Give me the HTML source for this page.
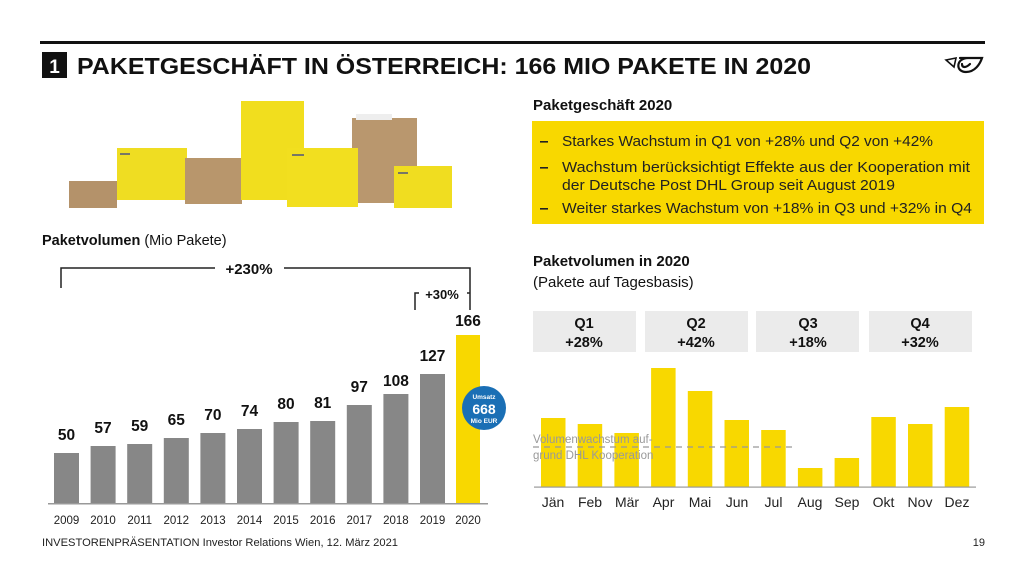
<!DOCTYPE html>
<html><head><meta charset="utf-8"><style>
html,body{margin:0;padding:0;background:#fff;}
svg{display:block;font-family:"Liberation Sans",sans-serif;}
</style></head><body>
<svg width="1024" height="576" viewBox="0 0 1024 576" xmlns="http://www.w3.org/2000/svg">
<rect width="1024" height="576" fill="#fff"/>
<!-- header -->
<rect x="40" y="41" width="945" height="3" fill="#111"/>
<rect x="42" y="52" width="25" height="26" fill="#111"/>
<text x="54.5" y="73" font-size="19" font-weight="bold" fill="#fff" text-anchor="middle">1</text>
<text x="77" y="74" font-size="23" font-weight="bold" fill="#111" textLength="734" lengthAdjust="spacingAndGlyphs">PAKETGESCHÄFT IN ÖSTERREICH: 166 MIO PAKETE IN 2020</text>
<!-- logo -->
<g fill="none" stroke="#111" stroke-width="2.2" stroke-linecap="round">
<path d="M946 60 L956 58 L954 67 Z" stroke-width="1.6"/>
<path d="M968 58 C956 58 955 72 966 72 C975 72 980 64 982 58 L960 58"/>
<path d="M962 64 C962 68 966 68 970 64"/>
</g>
<!-- boxes image -->
<g>
<rect x="69" y="181" width="48" height="27" fill="#b4926a"/>
<rect x="117" y="148" width="70" height="52" fill="#efdd22"/>
<rect x="185" y="158" width="57" height="46" fill="#b8966c"/>
<rect x="241" y="101" width="63" height="99" fill="#f1de1e"/>
<rect x="352" y="118" width="65" height="85" fill="#b9976e"/>
<rect x="356" y="114" width="36" height="6" fill="#eee"/>
<rect x="287" y="148" width="71" height="59" fill="#f2df1f"/>
<rect x="394" y="166" width="58" height="42" fill="#f0dd20"/>
<rect x="120" y="153" width="10" height="2" fill="#776"/>
<rect x="292" y="154" width="12" height="2" fill="#776"/>
<rect x="398" y="172" width="10" height="2" fill="#776"/>
</g>
<text x="42" y="245" font-size="14.5" fill="#111"><tspan font-weight="bold">Paketvolumen</tspan> (Mio Pakete)</text>
<!-- +230% bracket -->
<g stroke="#222" stroke-width="1.5" fill="none">
<path d="M61 288 V268 H215"/>
<path d="M284 268 H470 V310"/>
<path d="M415 310 V293 H419"/>
<path d="M467 293 H470"/>
</g>
<text x="249" y="274" font-size="15" font-weight="bold" fill="#111" text-anchor="middle">+230%</text>
<text x="442" y="299" font-size="13" font-weight="bold" fill="#111" text-anchor="middle">+30%</text>
<!-- left bars -->
<g fill="#878787">
<rect x="54" y="453" width="25" height="51"/>
<rect x="90.6" y="446" width="25" height="58"/>
<rect x="127.2" y="444" width="25" height="60"/>
<rect x="163.8" y="438" width="25" height="66"/>
<rect x="200.4" y="433" width="25" height="71"/>
<rect x="237" y="429" width="25" height="75"/>
<rect x="273.6" y="422" width="25" height="82"/>
<rect x="310.2" y="421" width="25" height="83"/>
<rect x="346.8" y="405" width="25" height="99"/>
<rect x="383.4" y="394" width="25" height="110"/>
<rect x="420" y="374" width="25" height="130"/>
</g>
<rect x="456" y="335" width="24" height="169" fill="#f8d800"/>
<rect x="48" y="503" width="440" height="1.5" fill="#999"/>
<g font-size="15.5" font-weight="bold" fill="#111" text-anchor="middle">
<text x="66.5" y="440">50</text><text x="103" y="433">57</text><text x="139.7" y="431">59</text>
<text x="176.3" y="425">65</text><text x="212.9" y="420">70</text><text x="249.5" y="416">74</text>
<text x="286" y="409">80</text><text x="322.7" y="408">81</text><text x="359.3" y="392">97</text>
<text x="395.9" y="386">108</text><text x="432.5" y="361">127</text><text x="468" y="326">166</text>
</g>
<g font-size="11.5" fill="#222" text-anchor="middle">
<text x="66.5" y="524">2009</text><text x="103" y="524">2010</text><text x="139.7" y="524">2011</text>
<text x="176.3" y="524">2012</text><text x="212.9" y="524">2013</text><text x="249.5" y="524">2014</text>
<text x="286" y="524">2015</text><text x="322.7" y="524">2016</text><text x="359.3" y="524">2017</text>
<text x="395.9" y="524">2018</text><text x="432.5" y="524">2019</text><text x="468" y="524">2020</text>
</g>
<circle cx="484" cy="408" r="22" fill="#1a6fb5"/>
<text x="484" y="399" font-size="6.5" font-weight="bold" fill="#fff" text-anchor="middle">Umsatz</text>
<text x="484" y="414" font-size="14" font-weight="bold" fill="#fff" text-anchor="middle">668</text>
<text x="484" y="423" font-size="6.5" font-weight="bold" fill="#fff" text-anchor="middle">Mio EUR</text>
<!-- right text -->
<text x="533" y="110" font-size="15" font-weight="bold" fill="#111">Paketgeschäft 2020</text>
<rect x="532" y="121" width="452" height="103" fill="#f8d800"/>
<g fill="#222">
<rect x="540" y="141" width="8" height="1.6"/>
<rect x="540" y="167" width="8" height="1.6"/>
<rect x="540" y="208" width="8" height="1.6"/>
</g>
<g font-size="14.5" fill="#222">
<text x="562" y="146" textLength="371" lengthAdjust="spacingAndGlyphs">Starkes Wachstum in Q1 von +28% und Q2 von +42%</text>
<text x="562" y="172" textLength="408" lengthAdjust="spacingAndGlyphs">Wachstum berücksichtigt Effekte aus der Kooperation mit</text>
<text x="562" y="190" textLength="333" lengthAdjust="spacingAndGlyphs">der Deutsche Post DHL Group seit August 2019</text>
<text x="562" y="213" textLength="410" lengthAdjust="spacingAndGlyphs">Weiter starkes Wachstum von +18% in Q3 und +32% in Q4</text>
</g>
<text x="533" y="266" font-size="15" font-weight="bold" fill="#111">Paketvolumen in 2020</text>
<text x="533" y="287" font-size="15" fill="#111">(Pakete auf Tagesbasis)</text>
<!-- Q boxes -->
<g fill="#ebebeb">
<rect x="533" y="311" width="103" height="41"/><rect x="645" y="311" width="103" height="41"/>
<rect x="756" y="311" width="103" height="41"/><rect x="869" y="311" width="103" height="41"/>
</g>
<g font-size="14.5" font-weight="bold" fill="#111" text-anchor="middle">
<text x="584" y="328">Q1</text><text x="584" y="347">+28%</text>
<text x="696" y="328">Q2</text><text x="696" y="347">+42%</text>
<text x="808" y="328">Q3</text><text x="808" y="347">+18%</text>
<text x="920" y="328">Q4</text><text x="920" y="347">+32%</text>
</g>
<!-- right bars -->
<g fill="#f8d800">
<rect x="541" y="418" width="24.5" height="69"/>
<rect x="577.7" y="424" width="24.5" height="63"/>
<rect x="614.4" y="433" width="24.5" height="54"/>
<rect x="651.1" y="368" width="24.5" height="119"/>
<rect x="687.8" y="391" width="24.5" height="96"/>
<rect x="724.5" y="420" width="24.5" height="67"/>
<rect x="761.2" y="430" width="24.5" height="57"/>
<rect x="797.9" y="468" width="24.5" height="19"/>
<rect x="834.6" y="458" width="24.5" height="29"/>
<rect x="871.3" y="417" width="24.5" height="70"/>
<rect x="908" y="424" width="24.5" height="63"/>
<rect x="944.7" y="407" width="24.5" height="80"/>
</g>
<rect x="534" y="486.5" width="442" height="1.2" fill="#999"/>
<line x1="533" y1="447" x2="793" y2="447" stroke="#999" stroke-width="1.3" stroke-dasharray="6,5"/>
<g font-size="11.5" fill="#999">
<text x="533" y="443">Volumenwachstum auf-</text>
<text x="533" y="459">grund DHL Kooperation</text>
</g>
<g font-size="14" fill="#222" text-anchor="middle">
<text x="553" y="507">Jän</text><text x="590" y="507">Feb</text><text x="627" y="507">Mär</text>
<text x="663.5" y="507">Apr</text><text x="700" y="507">Mai</text><text x="737" y="507">Jun</text>
<text x="773.5" y="507">Jul</text><text x="810" y="507">Aug</text><text x="847" y="507">Sep</text>
<text x="883.5" y="507">Okt</text><text x="920" y="507">Nov</text><text x="957" y="507">Dez</text>
</g>
<!-- footer -->
<text x="42" y="546" font-size="11" fill="#222" textLength="356" lengthAdjust="spacingAndGlyphs">INVESTORENPRÄSENTATION  Investor Relations Wien, 12. März 2021</text>
<text x="985" y="546" font-size="11" fill="#222" text-anchor="end">19</text>
</svg>
</body></html>
